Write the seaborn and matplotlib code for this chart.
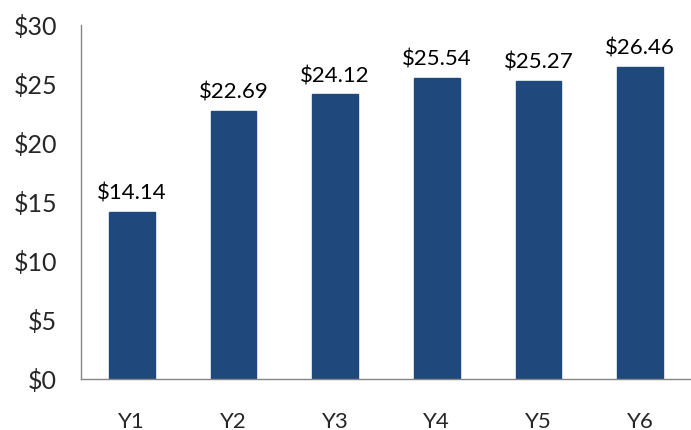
import matplotlib
matplotlib.use("Agg")
import matplotlib.pyplot as plt
import numpy as np
import pandas as pd
import seaborn as sns

years = ["Y1", "Y2", "Y3", "Y4", "Y5", "Y6"]
values = [14.14, 22.69, 24.12, 25.54, 25.27, 26.46]

sns.set_style("white")
plt.rcParams["font.family"] = ["Lato", "DejaVu Sans"]

df = pd.DataFrame({"year": years, "value": values})

fig = plt.figure(figsize=(6.91, 4.30), dpi=100)
ax = fig.add_axes([0.117, 0.1186, 0.883, 0.8233])

sns.barplot(data=df, x="year", y="value", color="#1F497D", width=0.45,
            saturation=1, ax=ax, edgecolor="#1F497D")

for i, v in enumerate(values):
    ax.annotate(f"${v:.2f}", (i, v), xytext=(0, 6), textcoords="offset points",
                ha="center", va="bottom", fontsize=16, color="#000000")

ax.set_ylim(0, 30)
ax.set_xlim(-0.5, len(years) - 0.5)
ax.set_yticks(np.arange(0, 31, 5))
ax.set_yticklabels([f"${t}" for t in range(0, 31, 5)])
ax.set_xlabel("")
ax.set_ylabel("")

# tick marks between categories
ax.set_xticks(np.arange(-0.5, len(years), 1), minor=True)
ax.tick_params(axis="x", which="major", length=0, pad=24, labelsize=16)
ax.tick_params(axis="x", which="minor", length=6, width=1, color="#868686",
               direction="out")
ax.tick_params(axis="y", length=6, width=1, color="#868686", direction="out",
               labelsize=18, pad=11)

for s in ["top", "right"]:
    ax.spines[s].set_visible(False)
for s in ["left", "bottom"]:
    ax.spines[s].set_color("#868686")
    ax.spines[s].set_linewidth(1)

fig.savefig("out.png", dpi=100)
